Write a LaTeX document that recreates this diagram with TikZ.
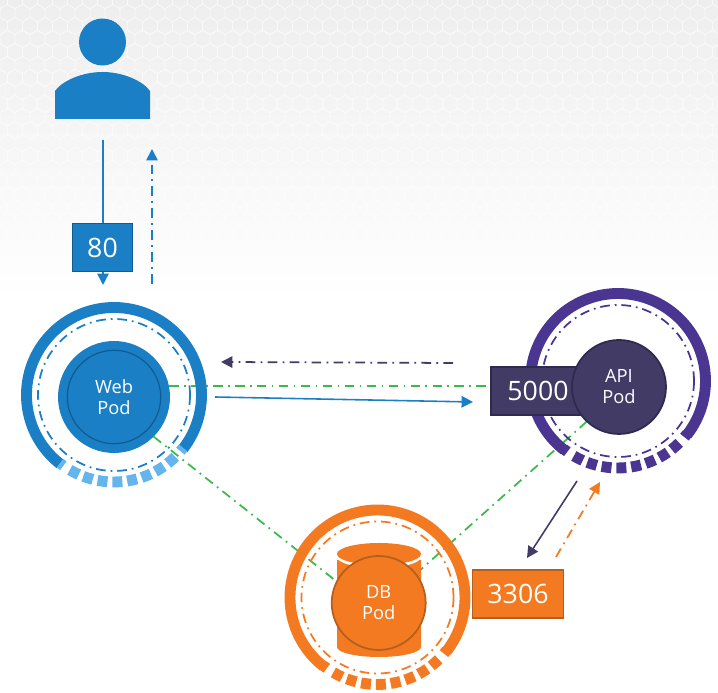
\documentclass[tikz,border=0pt]{standalone}
\usepackage{fontspec}
\setmainfont{Open Sans}
\usepackage{xcolor}
\usetikzlibrary{positioning,arrows.meta}
\definecolor{webblue}{RGB}{26,127,196}
\definecolor{webdark}{RGB}{16,92,146}
\definecolor{weblight}{RGB}{100,181,236}
\definecolor{apiring}{RGB}{74,53,145}
\definecolor{apipod}{RGB}{66,59,102}
\definecolor{apidark}{RGB}{47,42,80}
\definecolor{dborange}{RGB}{244,122,34}
\definecolor{dbdark}{RGB}{180,95,30}
\definecolor{linkgreen}{RGB}{60,185,75}
\definecolor{bggrey}{RGB}{238,238,238}
\pgfdeclarelayer{paper}
\pgfdeclarelayer{links}
\pgfsetlayers{paper,links,main}
\newcommand{\podring}[4]{%
  % #1 centre, #2 ring colour, #3 tick colour, #4 dotted circle colour
  \draw[line width=6.2pt,#2] (#1) ++(-38:87.5) arc[start angle=-38,end angle=232,radius=87.5];
  \foreach \a/\w in {233/1.4,242.8/3.3,252.6/3.3,262.4/3.3,272.2/3.3,282/3.3,291.8/3.3,301.6/3.3,311.4/3.3,321.2/1.4}
    \draw[line width=6.2pt,#3] (#1) ++(\a-\w:87) arc[start angle=\a-\w,end angle=\a+\w,radius=87];
  \draw[dotcircle,#4] (#1) circle (76);
}
\tikzset{
  podnode/.style={circle,inner sep=0pt,outer sep=0pt,minimum size=2.24cm,text=white,align=center,
    font=\fontsize{10.4}{12}\selectfont},
  dbnode/.style={podnode,minimum size=1.88cm},
  portbox/.style={draw,line width=1pt,inner sep=0pt,outer sep=0pt,text=white,
    font=\fontsize{15.2}{17}\selectfont},
  dotcircle/.style={line width=1pt,dash pattern=on 5.5pt off 2.8pt on 1pt off 2.8pt},
  solidarrow/.style={line width=0.9pt,-{Triangle[length=6.5pt,width=6.5pt]}},
  dotarrow/.style={line width=1pt,dash pattern=on 5.5pt off 3pt on 1pt off 3pt,
    -{Triangle[length=6.5pt,width=6.5pt]}},
  greenlink/.style={linkgreen,line width=1pt,dash pattern=on 5.5pt off 3pt on 1pt off 3pt},
  hexline/.style={white,line width=0.3pt,opacity=0.6}
}
\begin{document}
\begin{tikzpicture}[x=0.02cm,y=0.02cm]
  \useasboundingbox (0,0) rectangle (718,693);
  % grey paper with honeycomb
  \begin{pgfonlayer}{paper}
    \shade[top color=bggrey,bottom color=white] (0,393) rectangle (718,693);
    \foreach \r in {0,...,23}
      \foreach \c in {0,...,48} {
        \pgfmathsetmacro{\hx}{\c*15+mod(\r,2)*7.5}
        \pgfmathsetmacro{\hy}{693-\r*13}
        \draw[hexline] (\hx,\hy) +(30:8.6) -- +(90:8.6) -- +(150:8.6) -- +(210:8.6) -- +(270:8.6) -- +(330:8.6) -- cycle;
      }
  \end{pgfonlayer}
  % user
  \node[circle,fill=webblue,inner sep=0pt,minimum size=0.94cm] (userhead) at (102.5,651) {};
  \fill[webblue] (55,574) -- (55,602) .. controls (62,612) and (82,621) .. (102.5,621)
    .. controls (123,621) and (143,612) .. (150,602) -- (150,574) -- cycle;
  \coordinate (userout) at (103,553);
  \coordinate (webin) at (103,408);
  \coordinate (webback) at (152,409);
  \coordinate (userin) at (152,544);
  \draw[solidarrow,webblue] (userout) -- (webin);
  \draw[dotarrow,webblue] (webback) -- (userin);
  \node[portbox,draw=webdark,fill=webblue,minimum width=1.2cm,minimum height=0.96cm] (port80) at (102.5,445.5) {80};
  % web pod
  \podring{114,298}{webblue}{weblight}{webblue}
  \node[podnode,fill=webblue] (webpod) at (114,296) {Web\\Pod};
  \draw[webdark,line width=0.7pt] (webpod.center) circle (46.7);
  % api pod
  \podring{618,312}{apiring}{apiring}{apiring}
  \node[portbox,draw=apidark,fill=apipod,minimum width=1.88cm,minimum height=0.96cm] (port5000) at (538,302) {5000};
  \node[dbnode,draw=apidark,line width=1pt,fill=apipod] (apinode) at (619,306) {API\\Pod};
  % db pod
  \podring{377.5,95.5}{dborange}{dborange}{dborange}
  \fill[dborange] (337,133) -- (337,46) arc[start angle=180,end angle=360,x radius=42,y radius=10] -- (421,133) -- cycle;
  \fill[white] (379,136) ellipse (42 and 11);
  \fill[dborange] (379,139) ellipse (42 and 11);
  \node[dbnode,draw=dbdark,line width=1pt,fill=dborange] (dbnode) at (378.7,90) {DB\\Pod};
  \node[portbox,draw=dbdark,fill=dborange,minimum width=1.82cm,minimum height=0.95cm] (port3306) at (518,99) {3306};
  % links behind the pods
  \begin{pgfonlayer}{links}
    \draw[greenlink] (webpod.11) -- (webpod.11 -| port5000.west);
    \draw[greenlink] (webpod.-45) -- (dbnode.153);
    \draw[greenlink] (apinode.227) -- (dbnode.38);
  \end{pgfonlayer}
  % traffic
  \coordinate (apiback) at (453,330);
  \coordinate (webback2) at (221,331);
  \coordinate (webout) at (215,296);
  \coordinate (apiin) at (473,291);
  \coordinate (apiout) at (577,212);
  \coordinate (dbin) at (527,135);
  \coordinate (dbback) at (556,136);
  \coordinate (apireturn) at (600,211);
  \draw[dotarrow,apipod] (apiback) -- (webback2);
  \draw[solidarrow,webblue] (webout) -- (apiin);
  \draw[solidarrow,apipod] (apiout) -- (dbin);
  \draw[dotarrow,dborange] (dbback) -- (apireturn);
\end{tikzpicture}
\end{document}
